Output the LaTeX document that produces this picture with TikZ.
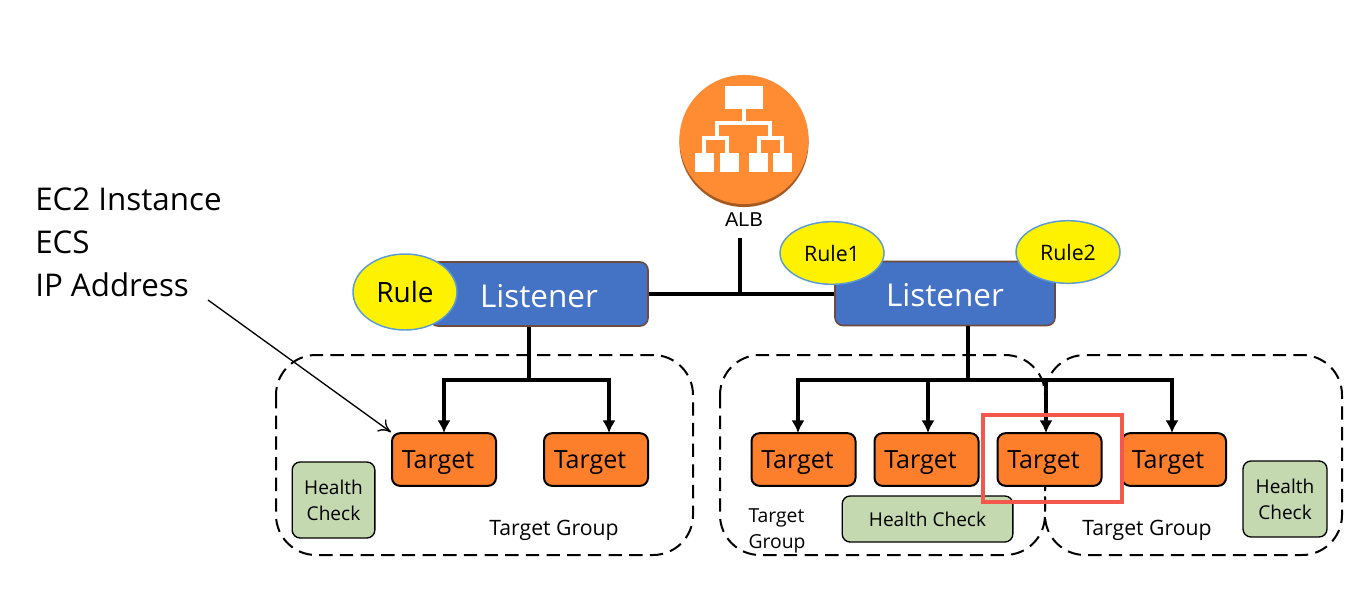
\documentclass[tikz,border=0pt]{standalone}
\usepackage{fontspec}
\setmainfont{Open Sans}
\newfontfamily\albfont{Liberation Sans}
\usetikzlibrary{arrows.meta,shapes.geometric}
\definecolor{targetfill}{HTML}{FD7F2C}
\definecolor{albfill}{HTML}{FF8B33}
\definecolor{albedge}{HTML}{A65A22}
\definecolor{listenerfill}{HTML}{4472C4}
\definecolor{listeneredge}{HTML}{6E4B3C}
\definecolor{rulefill}{HTML}{FFF200}
\definecolor{ruleedge}{HTML}{5B9BD5}
\definecolor{healthfill}{HTML}{C5D9B1}
\definecolor{markred}{HTML}{F4574B}
\newcommand{\targetname}{Target\kern9pt}
\tikzset{
    target/.style = {draw, line width=1.5pt, fill=targetfill, rounded corners=6pt, minimum width=78pt, minimum height=39.5pt, inner sep=0pt, text height=16pt, text depth=3.2pt, font=\fontsize{18.8}{19}\selectfont},
    listener/.style = {draw=listeneredge, line width=1.2pt, fill=listenerfill, rounded corners=6pt, minimum height=48pt, inner sep=0pt, text=white, text height=20pt, text depth=0pt, font=\fontsize{23.6}{24}\selectfont},
    rule/.style = {draw=ruleedge, line width=1.1pt, fill=rulefill, ellipse, inner sep=0pt, font=\fontsize{16}{16}\selectfont},
    health/.style = {draw, line width=1pt, fill=healthfill, rounded corners=6pt, inner sep=0pt, align=center, font=\fontsize{14.3}{19.5}\selectfont},
    grouplabel/.style = {inner sep=0pt, align=left, font=\fontsize{15.9}{19.5}\selectfont},
    groupbox/.style = {line width=1.5pt, dash pattern=on 10pt off 5.5pt, rounded corners=30pt},
    link/.style = {line width=2.8pt},
    feed/.style = {line width=2.8pt, -{Latex[length=9.5pt, width=10pt]}},
    icon/.style = {white, line width=2.6pt},
    iconbox/.style = {fill=white, draw=none},
}
\begin{document}
\begin{tikzpicture}[x=0.75pt, y=-0.75pt]
    \useasboundingbox (0,0) rectangle (1358,608);
    % dashed target groups
    \draw[groupbox] (276,355) rectangle (693,555);
    \draw[groupbox] (720,355) rectangle (1045,555);
    \draw[groupbox] (1045,355) rectangle (1342,555);
    % load balancer icon
    \pgfmathsetmacro{\albX}{744}
    \fill[albedge] (\albX,142.5) circle (48.4pt);
    \fill[albfill] (\albX,139.5) circle (48.4pt);
    \fill[iconbox] (725,86) rectangle (763,109);
    \draw[icon] (744,109) -- (744,123) (717,138) -- (717,123) -- (770,123) -- (770,138);
    \draw[icon] (704,153) -- (704,138) -- (727,138) -- (727,153);
    \draw[icon] (759,153) -- (759,138) -- (782,138) -- (782,153);
    \foreach \boxX in {695,720,749,773}
        \fill[iconbox] (\boxX,153) rectangle ++(19,19);
    \node[inner sep=0pt, font=\albfont\fontsize{15}{15}\selectfont] (ALB) at (\albX,220) {ALB};
    % listeners and their rules
    \node[listener, minimum width=163.5pt] (ListenerA) at (539,294) {Listener};
    \node[listener, minimum width=165pt] (ListenerB) at (945,293.5) {Listener};
    \node[rule, minimum width=78pt, minimum height=57pt] (Rule) at (405,292) {\fontsize{21}{21}\selectfont Rule};
    \node[rule, minimum width=78pt, minimum height=47pt] (RuleA) at (832,253) {Rule1};
    \node[rule, minimum width=78pt, minimum height=47pt] (RuleB) at (1068,252) {Rule2};
    % targets
    \node[target] (TargetA) at (444,459.5) {\targetname};
    \node[target] (TargetB) at (596,459.5) {\targetname};
    \node[target] (TargetC) at (803.5,459.5) {\targetname};
    \node[target] (TargetD) at (926.5,459.5) {\targetname};
    \node[target] (TargetE) at (1049.5,459.5) {\targetname};
    \node[target] (TargetF) at (1174,459.5) {\targetname};
    % health checks
    \node[health, minimum width=62pt, minimum height=57pt] (HealthA) at (333.5,500) {Health\\Check};
    \node[health, minimum width=128pt, minimum height=34.5pt] (HealthB) at (927.5,519) {Health Check};
    \node[health, minimum width=63pt, minimum height=57pt] (HealthC) at (1285,499) {Health\\Check};
    % group labels
    \node[grouplabel] (GroupLabelA) at (554,530) {Target Group};
    \node[grouplabel, font=\fontsize{14.5}{19.5}\selectfont] (GroupLabelB) at (777,531) {Target\\Group};
    \node[grouplabel] (GroupLabelC) at (1147,530) {Target Group};
    % instance types with pointer
    \node[inner sep=0pt, anchor=west, align=left, font=\fontsize{23.5}{32.2}\selectfont] (Types) at (35,242) {EC2 Instance\\ECS\\IP Address};
    \coordinate (TypesEnd) at (208,300);
    \draw[line width=1pt, -{To[length=9pt, width=11pt]}] (TypesEnd) -- (TargetA.north west);
    % connectors
    \coordinate (BusMid) at (740,294);
    \draw[link] (ListenerA.east) -- (ListenerB.west |- ListenerA.east);
    \draw[link] (740,238) -- (BusMid);
    \coordinate (ForkA) at (529,380);
    \coordinate (ForkB) at (968,380);
    \draw[link] (ForkA |- ListenerA.south) -- (ForkA);
    \draw[link] (ForkB |- ListenerB.south) -- (ForkB);
    \draw[feed] (ForkA) -- (444,380) -- (444,433);
    \draw[feed] (ForkA) -- (609,380) -- (609,433);
    \draw[feed] (ForkB) -- (798,380) -- (798,433);
    \draw[feed] (928,380) -- (928,433);
    \draw[feed] (ForkB) -- (1172,380) -- (1172,433);
    \draw[feed] (1046,380) -- (1046,433);
    % highlight
    \draw[markred, line width=3pt] (983,415) rectangle (1122,502);
\end{tikzpicture}
\end{document}
